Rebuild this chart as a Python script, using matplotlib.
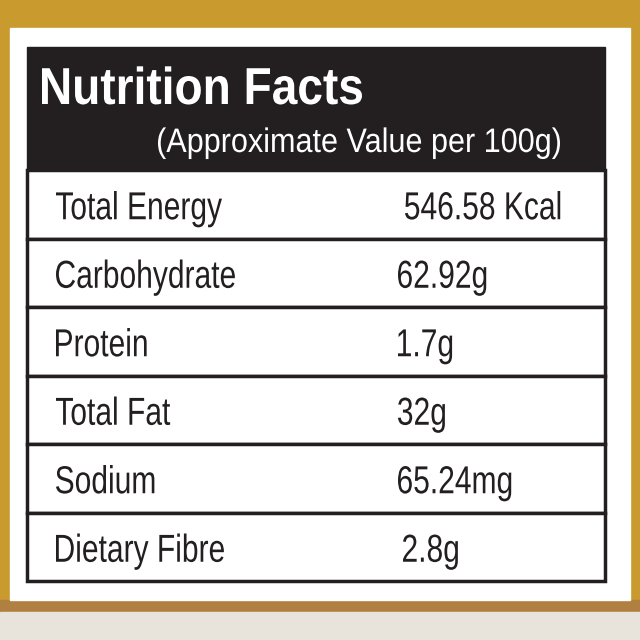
import matplotlib
matplotlib.use("Agg")
import matplotlib.pyplot as plt
from matplotlib.patches import Rectangle, PathPatch
from matplotlib.textpath import TextPath
from matplotlib.font_manager import FontProperties
from matplotlib.transforms import Affine2D

title = "Nutrition Facts"
subtitle = "(Approximate Value per 100g)"
nutrients = ["Total Energy", "Carbohydrate", "Protein", "Total Fat", "Sodium", "Dietary Fibre"]
values = ["546.58 Kcal", "62.92g", "1.7g", "32g", "65.24mg", "2.8g"]

fig = plt.figure(figsize=(6.4, 6.4), dpi=100)
ax = fig.add_axes([0, 0, 1, 1])
ax.set_xlim(0, 640); ax.set_ylim(640, 0); ax.axis('off')

def ntext(x, base, s, size, color, weight="normal", target=None, sx=None):
    fp = FontProperties(family="Liberation Sans", weight=weight)
    tp = TextPath((0, 0), s, size=size, prop=fp)
    ext = tp.get_extents()
    if sx is None:
        sx = target / ext.width
    tr = Affine2D().translate(-ext.x0, 0).scale(sx, -1).translate(x, base)
    ax.add_patch(PathPatch(tr.transform_path(tp), color=color, lw=0))
    return sx

# golden background frame
ax.add_patch(Rectangle((0, 0), 640, 640, color="#c99a2e"))
ax.add_patch(Rectangle((0, 600), 640, 40, color="#b08040"))
ax.add_patch(Rectangle((0, 612), 640, 28, color="#e8e4dc"))
ax.add_patch(Rectangle((10, 28), 620, 572, color="white"))

# header
ax.add_patch(Rectangle((27, 47), 578, 123, color="#231f20"))
ntext(42, 104, title, 52, "white", weight="bold", target=320)
ntext(158, 152, subtitle, 34, "white", target=402)

top, h = 170, 68.5
vx = [405, 398, 398, 398, 398, 403]
sx = None
for i, (n, v) in enumerate(zip(nutrients, values)):
    y = top + i * h
    ax.add_patch(Rectangle((27, y), 578, h, facecolor="white", edgecolor="#231f20", lw=2.5))
    if sx is None:
        sx = ntext(56, y + h / 2 + 15, n, 39, "#231f20", target=166)
    else:
        ntext(56, y + h / 2 + 15, n, 39, "#231f20", sx=sx)
    ntext(vx[i], y + h / 2 + 15, v, 39, "#231f20", sx=sx)

fig.savefig("out.png", dpi=100)
